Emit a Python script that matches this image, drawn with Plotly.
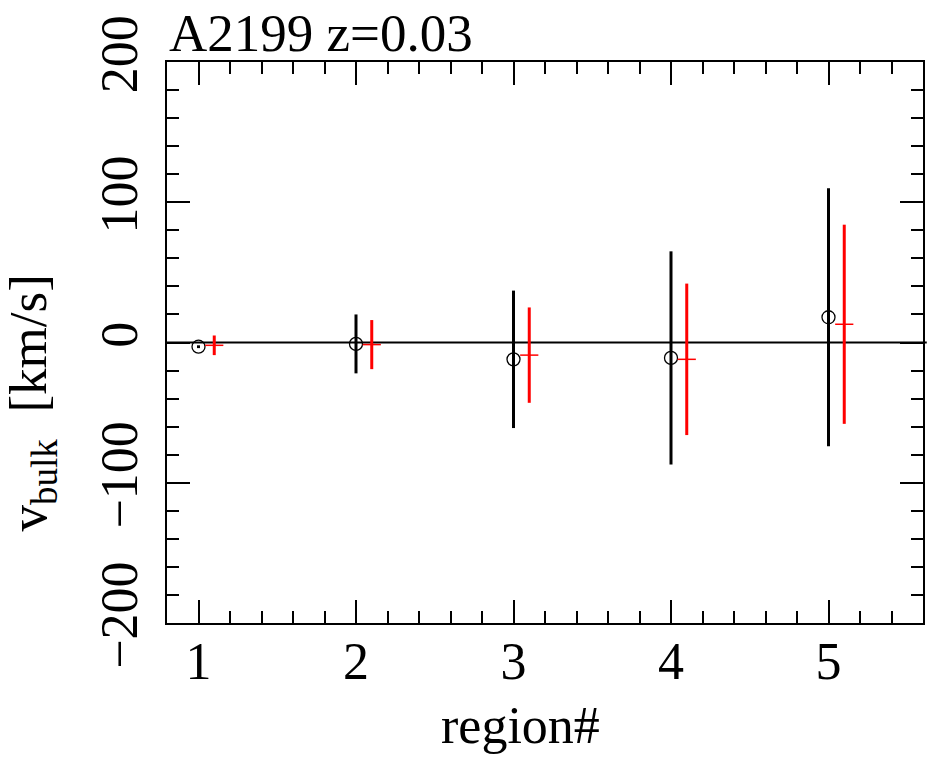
import plotly.graph_objects as go

# region numbers and bulk velocities (km/s)
regions = [1, 2, 3, 4, 5]
offset_red = 0.1

v_black = [-3, -1, -12, -11, 18]
err_black = [1, 21, 49, 76, 92]

v_red = [-2, -1.5, -9, -12, 13]
err_red = [7, 17.5, 34, 54, 71]

FONT = "Liberation Serif, Times New Roman, serif"

fig = go.Figure()

fig.add_trace(go.Scatter(
    x=regions, y=v_black, mode="markers",
    marker=dict(symbol="circle-open", size=13, color="black",
                line=dict(width=1.3, color="black")),
    error_y=dict(type="data", array=err_black, color="black",
                 thickness=3, width=0),
    showlegend=False,
))
fig.add_trace(go.Scatter(
    x=[r + offset_red for r in regions], y=v_red, mode="markers",
    marker=dict(symbol="line-ew", size=13, color="red",
                line=dict(width=1.5, color="red")),
    error_y=dict(type="data", array=err_red, color="red",
                 thickness=3, width=0),
    showlegend=False,
))

# zero line
fig.add_shape(type="line", xref="paper", yref="y", x0=0, x1=1.005, y0=0, y1=0,
              line=dict(color="black", width=2), layer="below")

axis_common = dict(
    showgrid=False, zeroline=False, showline=True, linecolor="black",
    linewidth=2, mirror="ticks", ticks="inside", ticklen=23, tickwidth=2,
    tickcolor="black", automargin=False,
    tickfont=dict(family=FONT, size=52, color="black"),
)

fig.update_xaxes(range=[0.8, 5.6], tickvals=[1, 2, 3, 4, 5],
                 ticklabelstandoff=-8,
                 minor=dict(dtick=0.2, ticks="inside", ticklen=12,
                            tickwidth=2, tickcolor="black"),
                 **axis_common)
fig.update_yaxes(range=[-200, 200], tickvals=[-200, -100, 0, 100, 200],
                 tickangle=-90, ticklabelstandoff=7,
                 minor=dict(dtick=20, ticks="inside", ticklen=12,
                            tickwidth=2, tickcolor="black"),
                 **axis_common)

fig.add_annotation(text="A2199 z=0.03", xref="paper", yref="paper",
                   x=0, y=1.107, xanchor="left", yanchor="top",
                   showarrow=False, font=dict(family=FONT, size=53, color="black"))
fig.add_annotation(text="region#", xref="paper", yref="paper",
                   x=0.468, y=-0.182, xanchor="center", yanchor="middle",
                   showarrow=False, font=dict(family=FONT, size=52, color="black"))
fig.add_annotation(text="v<sub>bulk</sub>\u00a0\u00a0[km/s]", xref="paper", yref="paper",
                   x=-0.178, y=0.392, xanchor="center", yanchor="middle",
                   textangle=-90, showarrow=False,
                   font=dict(family=FONT, size=53, color="black"))

fig.update_layout(
    width=928, height=757,
    margin=dict(l=167, r=5, t=62, b=134),
    paper_bgcolor="white", plot_bgcolor="white",
)

# drop the default body margin so the figure sits at the page corner
fig.write_html("out.html", config={"displayModeBar": False},
               post_script="document.body.style.margin='0';")
